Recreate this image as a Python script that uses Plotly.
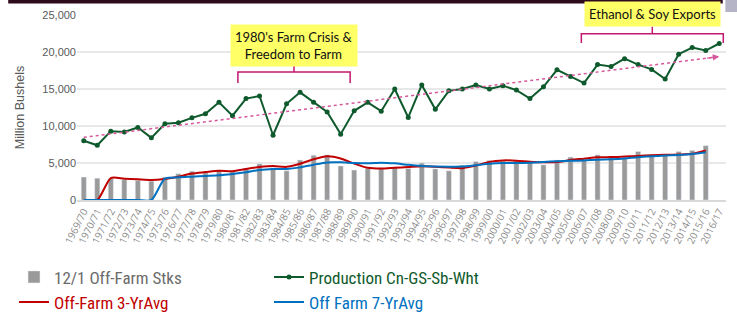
import numpy as np
import plotly.graph_objects as go

years = ["1969/70","1970/71","1971/72","1972/73","1973/74","1974/75","1975/76","1976/77",
         "1977/78","1978/79","1979/80","1980/81","1981/82","1982/83","1983/84","1984/85",
         "1985/86","1986/87","1987/88","1988/89","1989/90","1990/91","1991/92","1992/93",
         "1993/94","1994/95","1995/96","1996/97","1997/98","1998/99","1999/00","2000/01",
         "2001/02","2002/03","2003/04","2004/05","2005/06","2006/07","2007/08","2008/09",
         "2009/10","2010/11","2011/12","2012/13","2013/14","2014/15","2015/16","2016/17"]

production = [8000, 7400, 9300, 9200, 9800, 8400, 10300, 10450, 11100, 11650, 13200, 11400,
              13700, 14050, 8750, 13000, 14550, 13200, 11900, 8900, 12050, 13200, 12000, 15000,
              11150, 15550, 12250, 14750, 15000, 15550, 15000, 15450, 14850, 13700, 15300, 17600,
              16700, 15800, 18300, 18050, 19100, 18300, 17650, 16350, 19700, 20600, 20200, 21150]

offfarm_stocks = [3100, 2950, 2900, 2750, 2650, 2550, 3100, 3550, 3900, 3700, 4050, 3850,
                  4300, 4900, 4350, 3950, 5400, 6050, 6100, 4600, 4050, 4300, 4300, 4450,
                  4250, 5000, 4200, 3950, 4700, 5200, 5350, 5250, 5300, 5050, 4750, 5400,
                  5800, 5450, 6100, 5800, 5800, 6550, 6150, 6050, 6550, 6700, 7350, None]

avg3 = [0, 0, 2970, 2880, 2790, 2700, 2850, 3150, 3580, 3770, 3950, 3900, 4200, 4450, 4580, 4480,
        4900, 5500, 5900, 5620, 4920, 4350, 4250, 4350, 4450, 4550, 4480, 4380, 4300, 4650, 5150,
        5350, 5320, 5180, 5100, 5120, 5400, 5580, 5770, 5800, 5880, 5960, 6050, 6100, 6150, 6250,
        6700, None]

avg7 = [0, 0, 0, 0, 0, 0, 2880, 3060, 3150, 3240, 3330, 3510, 3740, 4050, 4190, 4190, 4410,
        4770, 5080, 5090, 5000, 4970, 5050, 4950, 4750, 4600, 4520, 4500, 4520, 4700, 4900, 5000,
        5000, 5050, 5150, 5230, 5300, 5350, 5450, 5500, 5600, 5780, 5900, 6000, 6080, 6200, 6440,
        None]

y_ticks = [0, 5000, 10000, 15000, 20000, 25000]

# linear trend of production (as the source chart's trendline)
idx = np.arange(len(production))
slope, intercept = np.polyfit(idx, production, 1)
trend = (slope * idx + intercept).tolist()

C_BAR = "#9a9a9a"
C_PROD = "#0f5a2c"
C_RED = "#c00000"
C_BLUE = "#0070c0"
C_TREND = "#d6589c"
C_BRK = "#c2186f"

LEG_FONT = "Liberation Sans Narrow, Roboto Condensed, Arial Narrow, Liberation Sans, sans-serif"

fig = go.Figure()
fig.add_trace(go.Bar(x=years, y=offfarm_stocks, marker_color=C_BAR,
                     name="<span style='color:#6b6b6b'>12/1 Off-Farm Stks</span>"))
fig.add_trace(go.Scatter(x=years, y=production, mode="lines+markers",
                         line=dict(color=C_PROD, width=2), marker=dict(size=5, color=C_PROD),
                         name=f"<span style='color:{C_PROD}'>Production Cn-GS-Sb-Wht</span>"))
fig.add_trace(go.Scatter(x=years, y=avg3, mode="lines",
                         line=dict(color=C_RED, width=2, shape="spline", smoothing=0.7),
                         name=f"<span style='color:{C_RED}'>Off-Farm 3-YrAvg</span>"))
fig.add_trace(go.Scatter(x=years, y=avg7, mode="lines",
                         line=dict(color=C_BLUE, width=2, shape="spline", smoothing=0.7),
                         name=f"<span style='color:{C_BLUE}'>Off Farm 7-YrAvg</span>"))
fig.add_trace(go.Scatter(x=years, y=trend, mode="lines", showlegend=False,
                         line=dict(color=C_TREND, width=1.5, dash="dot")))

# arrow head on trend
fig.add_annotation(x=len(years) - 1, y=trend[-1], ax=len(years) - 2, ay=trend[-2],
                   xref="x", yref="y", axref="x", ayref="y", text="", showarrow=True,
                   arrowhead=2, arrowsize=1, arrowwidth=1.3, arrowcolor=C_TREND)

# brackets
def bracket(x0, x1, yb, yt, ytip):
    xm = (x0 + x1) / 2
    path = f"M {x0},{yb} L {x0},{yt} L {x1},{yt} L {x1},{yb} M {xm},{yt} L {xm},{ytip}"
    fig.add_shape(type="path", path=path, xref="x", yref="y",
                  line=dict(color=C_BRK, width=1.5))

bracket(11.4, 19.7, 15800, 17300, 18650)
bracket(36.8, 47.3, 21200, 22450, 23400)

ANN_FONT = "Lato, Open Sans, sans-serif"
fig.add_annotation(x=15.55, y=20900, xref="x", yref="y", text="1980's Farm Crisis &<br>Freedom to Farm",
                   showarrow=False, bgcolor="#ffff66", font=dict(family=ANN_FONT, size=13, color="#111"),
                   borderpad=4)
fig.add_annotation(x=42.05, y=1.006, xref="x", yref="paper", text="Ethanol & Soy Exports",
                   showarrow=False, bgcolor="#ffff66", font=dict(family=ANN_FONT, size=13, color="#111"),
                   borderpad=4, yanchor="middle")

# dark band at top and small grey corner block
fig.add_shape(type="rect", xref="paper", yref="paper", x0=-0.106, x1=0.995, y0=1.062, y1=1.09,
              fillcolor="#2e0a1c", line=dict(width=0), layer="above")
fig.add_shape(type="rect", xref="paper", yref="paper", x0=0.999, x1=1.02, y0=1.016, y1=1.09,
              fillcolor="#b4b4c6", line=dict(width=0), layer="above")

fig.update_layout(
    width=737, height=314,
    margin=dict(l=77, r=11, t=15, b=114, autoexpand=False),
    paper_bgcolor="white", plot_bgcolor="white",
    bargap=0.62,
    showlegend=True,
    legend=dict(orientation="h", xref="container", yref="container",
                x=0.019, xanchor="left", y=0.174, yanchor="top",
                font=dict(family=LEG_FONT, size=17, color="#6b6b6b"),
                entrywidth=210, entrywidthmode="pixels", itemwidth=30,
                bgcolor="rgba(0,0,0,0)", tracegroupgap=0),
    font=dict(family="Liberation Sans, Arial, sans-serif"),
)
fig.update_yaxes(range=[0, 25000], tickvals=y_ticks, tickformat=",", showgrid=True,
                 gridcolor="#e8e8e8", gridwidth=1.5, zeroline=False, automargin=False,
                 tickfont=dict(size=11, color="#595959"),
                 title=dict(text="Million Bushels", font=dict(size=12.5, color="#595959"), standoff=14))
fig.update_xaxes(type="category", tickangle=-63, automargin=False,
                 tickfont=dict(size=10, color="#8a8a8a", family="Open Sans, sans-serif"),
                 showline=True, linecolor="#d9d9d9", linewidth=1.5, ticks="", range=[-0.5, 47.5])

fig.write_html("out.html", config={"displayModeBar": False},
               post_script="document.body.style.margin='0';")
